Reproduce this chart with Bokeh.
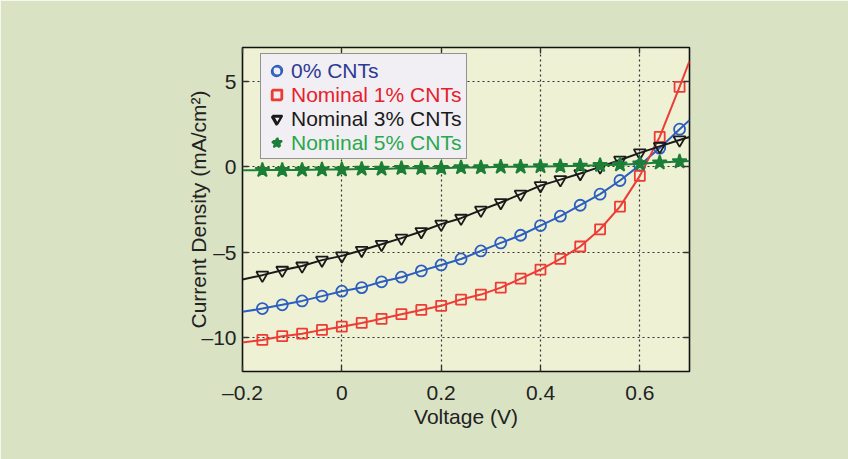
from bokeh.plotting import figure
from bokeh.models import Range1d, FixedTicker, LinearAxis, Legend, LegendItem, BoxAnnotation
from bokeh.embed import file_html
from bokeh.resources import INLINE

# ---- data ----
voltage = [-0.16, -0.12, -0.08, -0.04, 0.00, 0.04, 0.08, 0.12, 0.16, 0.20, 0.24,
           0.28, 0.32, 0.36, 0.40, 0.44, 0.48, 0.52, 0.56, 0.60, 0.64, 0.68]
cnt0 = [-8.31, -8.09, -7.86, -7.58, -7.29, -7.08, -6.74, -6.47, -6.10, -5.75, -5.40,
        -4.93, -4.46, -4.01, -3.44, -2.89, -2.25, -1.60, -0.80, 0.10, 1.10, 2.21]
cnt1 = [-10.15, -9.93, -9.78, -9.56, -9.37, -9.15, -8.91, -8.64, -8.39, -8.15, -7.78,
        -7.49, -7.08, -6.55, -6.02, -5.40, -4.67, -3.66, -2.33, -0.53, 1.76, 4.69]
cnt3 = [-6.35, -6.06, -5.81, -5.47, -5.22, -4.89, -4.54, -4.18, -3.79, -3.36, -3.01,
        -2.54, -2.09, -1.60, -1.10, -0.75, -0.39, 0.00, 0.40, 0.82, 1.20, 1.58]
cnt5 = [-0.19, -0.19, -0.18, -0.16, -0.16, -0.12, -0.12, -0.08, -0.08, -0.08, -0.04,
        -0.04, 0.00, 0.00, 0.02, 0.04, 0.06, 0.10, 0.13, 0.18, 0.25, 0.31]
# curve values at the plot edges (V = -0.2 and V = 0.7)
edge_v = [-0.2, 0.7]
cnt0_edge = [-8.5, 2.74]
cnt1_edge = [-10.3, 6.2]
cnt3_edge = [-6.6, 1.75]
cnt5_edge = [-0.2, 0.35]

labels = ["0% CNTs", "Nominal 1% CNTs", "Nominal 3% CNTs", "Nominal 5% CNTs"]
x_ticks = [-0.2, 0.0, 0.2, 0.4, 0.6]
x_tick_labels = ["\u20130.2", "0", "0.2", "0.4", "0.6"]
y_ticks = [-10, -5, 0, 5]
y_tick_labels = ["\u201310", "\u20135", "0", "5"]

FONT = "Liberation Sans"
OUTER_BG = "#d9e3c4"
PLOT_BG = "#eff1d4"

p = figure(width=848, height=459, x_range=Range1d(-0.2, 0.7), y_range=Range1d(-12, 7),
           output_backend="svg", toolbar_location=None,
           min_border_left=242, min_border_right=159, min_border_top=47, min_border_bottom=88,
           background_fill_color=PLOT_BG, border_fill_color=OUTER_BG,
           x_axis_label="Voltage (V)", y_axis_label="Current Density (mA/cm\u00b2)")

p.outline_line_color = "#111111"
p.outline_line_width = 1.6

# page frame: white margin and grey rule at top/left
for l, r, t, b, c in ((0, 848, 0, 8, "white"), (0, 5, 0, 459, "white"),
                      (5, 848, 8, 11, "#d0d0d0"), (5, 8, 8, 459, "#d0d0d0")):
    p.add_layout(BoxAnnotation(left=l, right=r, top=t, bottom=b,
                               left_units="canvas", right_units="canvas",
                               top_units="canvas", bottom_units="canvas",
                               fill_color=c, fill_alpha=1, line_color=None))

for ax in (p.xaxis[0], p.yaxis[0]):
    ax.axis_line_color = None
    ax.major_tick_in = 6
    ax.major_tick_out = 0
    ax.minor_tick_line_color = None
    ax.major_tick_line_color = "#333333"
    ax.major_tick_line_width = 1.3
    ax.major_label_text_font = FONT
    ax.major_label_text_font_size = "21px"
    ax.major_label_text_color = "#222222"
    ax.axis_label_text_font = FONT
    ax.axis_label_text_font_size = "21px"
    ax.axis_label_text_font_style = "normal"
    ax.axis_label_text_color = "#222222"

p.xaxis[0].ticker = FixedTicker(ticks=x_ticks)
p.xaxis[0].major_label_overrides = dict(zip(x_ticks, x_tick_labels))
p.xaxis[0].major_label_standoff = 9
p.xaxis[0].axis_label_standoff = -2
p.yaxis[0].ticker = FixedTicker(ticks=y_ticks)
p.yaxis[0].major_label_overrides = dict(zip(y_ticks, y_tick_labels))
p.yaxis[0].major_label_standoff = 6
p.yaxis[0].axis_label_standoff = -12

# top and right axes: inward ticks only
for loc, tks in (("above", x_ticks), ("right", y_ticks)):
    a = LinearAxis(ticker=FixedTicker(ticks=tks), axis_line_color=None,
                   major_tick_in=6, major_tick_out=0, minor_tick_line_color=None,
                   major_tick_line_color="#333333", major_tick_line_width=1.3,
                   major_label_text_alpha=0, major_label_text_font_size="10px")
    p.add_layout(a, loc)

for g in (p.xgrid[0], p.ygrid[0]):
    g.grid_line_color = "#333333"
    g.grid_line_dash = "2 3"
    g.grid_line_width = 1.2

series = [
    (cnt0, cnt0_edge, "#2d5fc0", "circle", 11, False),
    (cnt1, cnt1_edge, "#ee3b35", "square", 10, False),
    (cnt3, cnt3_edge, "#1a1a1a", "inverted_triangle", 12, False),
    (cnt5, cnt5_edge, "#1d7f37", "star", 15, True),
]
text_colors = ["#2b3a92", "#e8202c", "#1a1a1a", "#2aa84c"]

scatter_renderers = []
for vals, edge, color, marker, size, filled in series:
    xs = [edge_v[0]] + voltage + [edge_v[1]]
    ys = [edge[0]] + vals + [edge[1]]
    p.line(xs, ys, line_color=color, line_width=2)
    r = p.scatter(voltage, vals, marker=marker, size=size,
                  line_color=color, line_width=1.8,
                  fill_color=color if filled else None)
    scatter_renderers.append(r)

PAD = 4
ROW = 24
common = dict(padding=PAD, spacing=0, glyph_width=ROW, glyph_height=ROW, label_height=ROW,
              label_standoff=3, label_text_font=FONT, label_text_font_size="21px",
              margin=0)
LEG_Y = 371 - 55 - (2 * PAD + 4 * ROW)
main_legend = Legend(items=[LegendItem(label=l, renderers=[r]) for l, r in zip(labels, scatter_renderers)],
                     location=(18, LEG_Y), background_fill_color="#f1eff3", background_fill_alpha=1,
                     border_line_color="#333333", border_line_width=1.5,
                     label_text_alpha=0, **common)
p.add_layout(main_legend, "center")
for i, (l, r, c) in enumerate(zip(labels, scatter_renderers, text_colors)):
    lg = Legend(items=[LegendItem(label=l, renderers=[r])],
                location=(18, LEG_Y + (3 - i) * ROW), background_fill_alpha=0,
                border_line_alpha=0, label_text_color=c, **common)
    p.add_layout(lg, "center")

open("out.html", "w").write(file_html(p, INLINE))
